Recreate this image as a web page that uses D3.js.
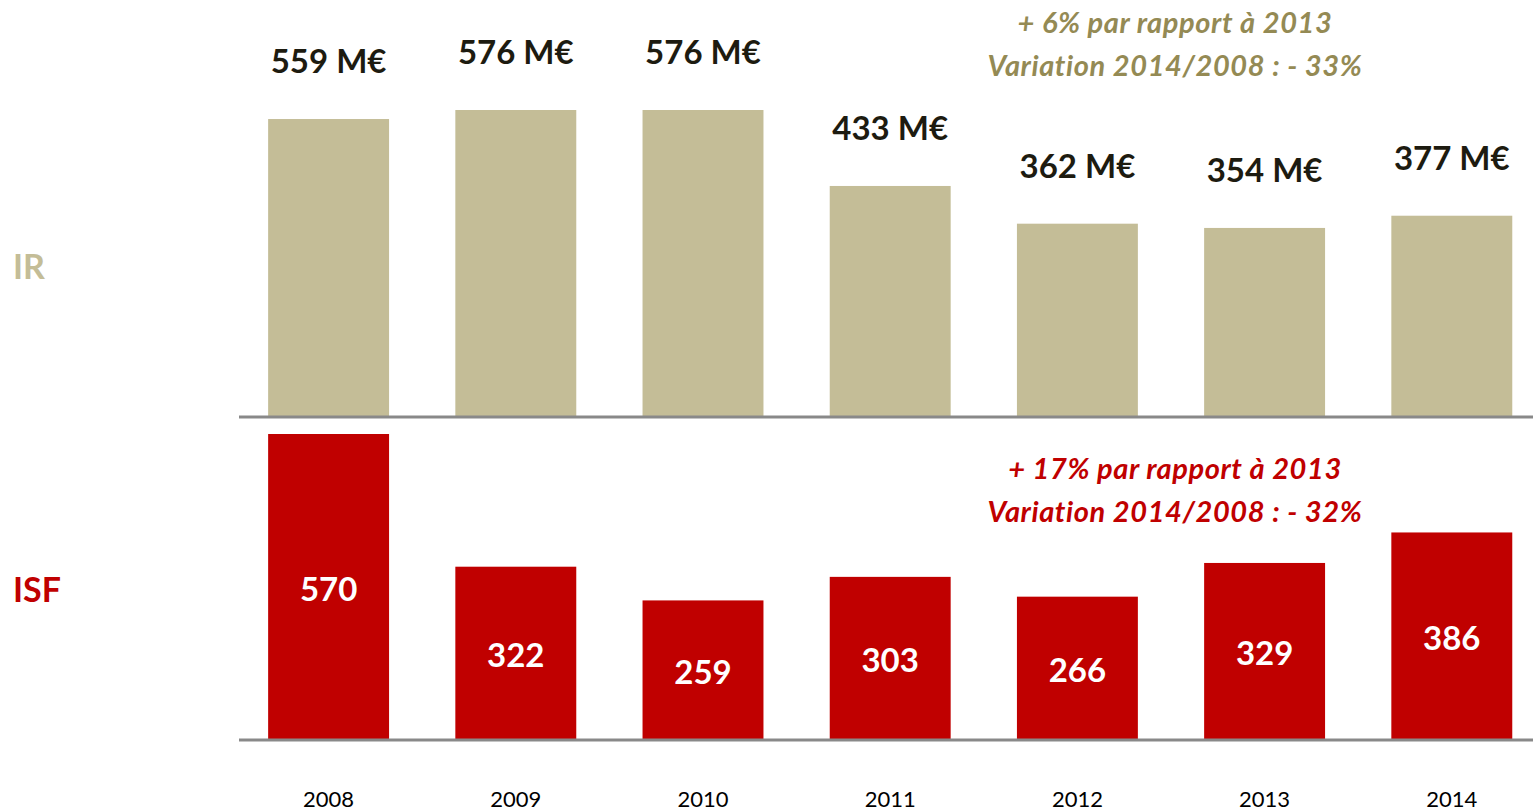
<!DOCTYPE html>
<html>
<head>
<meta charset="utf-8">
<script src="https://cdn.jsdelivr.net/npm/d3@7"></script>
<style>
  html, body { margin: 0; padding: 0; background: #fff; }
  svg text { font-family: Lato, "Open Sans", sans-serif; }
</style>
</head>
<body>
<div id="chart"></div>
<script>
// data
var years = ["2008", "2009", "2010", "2011", "2012", "2013", "2014"];
var irValues = [559, 576, 576, 433, 362, 354, 377];
var isfValues = [570, 322, 259, 303, 266, 329, 386];
var irNotes = ["+ 6% par rapport à 2013", "Variation 2014/2008 : - 33%"];
var isfNotes = ["+ 17% par rapport à 2013", "Variation 2014/2008 : - 32%"];

var width = 1533, height = 811;
var tan = "#C4BD97", red = "#C00000", olive = "#948A54";

var svg = d3.select("#chart").append("svg")
  .attr("width", width)
  .attr("height", height);

var x = d3.scaleBand()
  .domain(years)
  .range([235, 1545.4])
  .paddingInner(0.354)
  .paddingOuter(0.177);

var irBase = 416, isfBase = 739;
var yIR = d3.scaleLinear().domain([0, 576]).range([irBase, 110]);
var yISF = d3.scaleLinear().domain([0, 570]).range([isfBase, 434]);

// IR bars
svg.selectAll(".ir-bar").data(irValues).enter()
  .append("rect")
  .attr("class", "ir-bar")
  .attr("x", (d, i) => x(years[i]))
  .attr("y", d => yIR(d))
  .attr("width", x.bandwidth())
  .attr("height", d => irBase - yIR(d))
  .attr("fill", tan);

svg.selectAll(".ir-label").data(irValues).enter()
  .append("text")
  .attr("class", "ir-label")
  .attr("x", (d, i) => x(years[i]) + x.bandwidth() / 2)
  .attr("y", d => yIR(d) - 46)
  .attr("text-anchor", "middle")
  .attr("font-size", 33)
  .attr("font-weight", "bold")
  .attr("fill", "#1d1b10")
  .text(d => d + " M€");

// ISF bars
svg.selectAll(".isf-bar").data(isfValues).enter()
  .append("rect")
  .attr("class", "isf-bar")
  .attr("x", (d, i) => x(years[i]))
  .attr("y", d => yISF(d))
  .attr("width", x.bandwidth())
  .attr("height", d => isfBase - yISF(d))
  .attr("fill", red);

svg.selectAll(".isf-label").data(isfValues).enter()
  .append("text")
  .attr("class", "isf-label")
  .attr("x", (d, i) => x(years[i]) + x.bandwidth() / 2)
  .attr("y", d => (yISF(d) + isfBase) / 2 + 14)
  .attr("text-anchor", "middle")
  .attr("font-size", 33)
  .attr("font-weight", "bold")
  .attr("fill", "#fff")
  .text(d => d);

// baselines
[irBase, isfBase].forEach(function(b) {
  svg.append("line")
    .attr("x1", 239).attr("x2", width)
    .attr("y1", b + 1).attr("y2", b + 1)
    .attr("stroke", "#898989")
    .attr("stroke-width", 3);
});

// year labels
svg.selectAll(".year").data(years).enter()
  .append("text")
  .attr("class", "year")
  .attr("x", d => x(d) + x.bandwidth() / 2)
  .attr("y", 807)
  .attr("text-anchor", "middle")
  .attr("font-size", 22)
  .attr("fill", "#000")
  .text(d => d);

// panel titles
svg.append("text")
  .attr("x", 13).attr("y", 279)
  .attr("font-size", 34).attr("font-weight", "bold")
  .attr("fill", tan)
  .text("IR");
svg.append("text")
  .attr("x", 13).attr("y", 602)
  .attr("font-size", 34).attr("font-weight", "bold")
  .attr("fill", red)
  .text("ISF");

// notes
function notes(lines, y0, color) {
  svg.selectAll(null).data(lines).enter()
    .append("text")
    .attr("x", 1175)
    .attr("y", (d, i) => y0 + i * 43)
    .attr("text-anchor", "middle")
    .attr("font-size", 29)
    .attr("letter-spacing", 0.6)
    .attr("font-weight", "bold")
    .attr("font-style", "italic")
    .attr("fill", color)
    .text(d => d);
}
notes(irNotes, 33, olive);
notes(isfNotes, 479, red);
</script>
</body>
</html>
